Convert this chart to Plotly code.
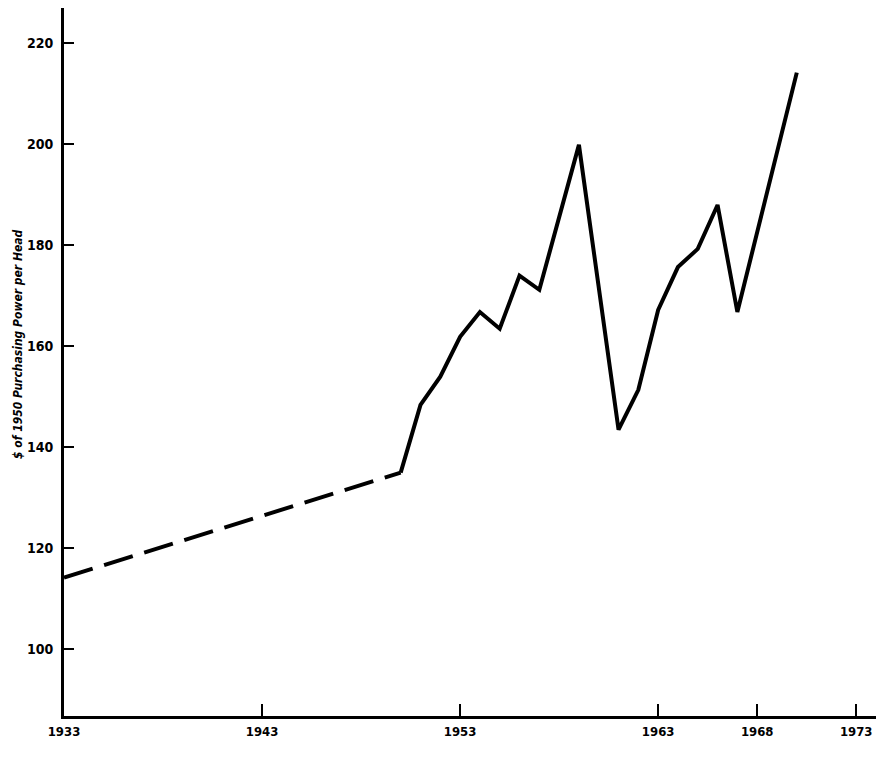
import plotly.graph_objects as go

# Data
dashed_years = [1933, 1950]
dashed_values = [114.1, 134.9]

solid_years = [1950, 1951, 1952, 1953, 1954, 1955, 1956, 1957, 1959,
               1961, 1962, 1963, 1964, 1965, 1966, 1967, 1970]
solid_values = [134.9, 148.3, 153.9, 161.8, 166.7, 163.4, 173.9, 171.1, 199.8,
                143.4, 151.3, 167.1, 175.6, 179.2, 187.9, 166.7, 214.1]

x_ticks = [1933, 1943, 1953, 1963, 1968, 1973]
y_ticks = [100, 120, 140, 160, 180, 200, 220]
y_title = "$ of 1950 Purchasing Power per Head"

FONT = "DejaVu Sans Condensed, Liberation Sans Narrow, sans-serif"

fig = go.Figure()
fig.add_trace(go.Scatter(
    x=dashed_years, y=dashed_values, mode="lines",
    line=dict(color="black", width=4, dash="30px,12px"),
    showlegend=False, hoverinfo="skip"))
fig.add_trace(go.Scatter(
    x=solid_years, y=solid_values, mode="lines",
    line=dict(color="black", width=4),
    showlegend=False, hoverinfo="skip"))

fig.update_layout(
    width=889, height=769,
    margin=dict(l=56, r=21, t=0, b=61),
    paper_bgcolor="white", plot_bgcolor="white",
    font=dict(family=FONT, color="black", size=12),
    xaxis=dict(
        range=[1933, 1974], tickvals=x_ticks, ticktext=[str(v) for v in x_ticks],
        showgrid=False, zeroline=False, automargin=False,
        showline=True, linecolor="black", linewidth=3,
        ticks="inside", ticklen=12, tickwidth=2, tickcolor="black",
        tickfont=dict(family=FONT, size=13, color="black", weight="bold"),
        ticklabelstandoff=1,
    ),
    yaxis=dict(
        range=[86.7, 226.9], tickvals=y_ticks,
        showgrid=False, zeroline=False, automargin=False,
        showline=True, linecolor="black", linewidth=3,
        ticks="inside", ticklen=10, tickwidth=2, tickcolor="black",
        tickfont=dict(family=FONT, size=14, color="black", weight="bold"),
        ticklabelstandoff=5,
    ),
    annotations=[dict(
        text=y_title, textangle=-90,
        xref="paper", yref="paper",
        x=(18 - 64) / 812, y=1 - (344 - 8) / 708,
        xanchor="center", yanchor="middle", showarrow=False,
        font=dict(family=FONT, size=12, color="black", weight="bold", style="italic"),
    )],
)

fig.write_html("out.html")
